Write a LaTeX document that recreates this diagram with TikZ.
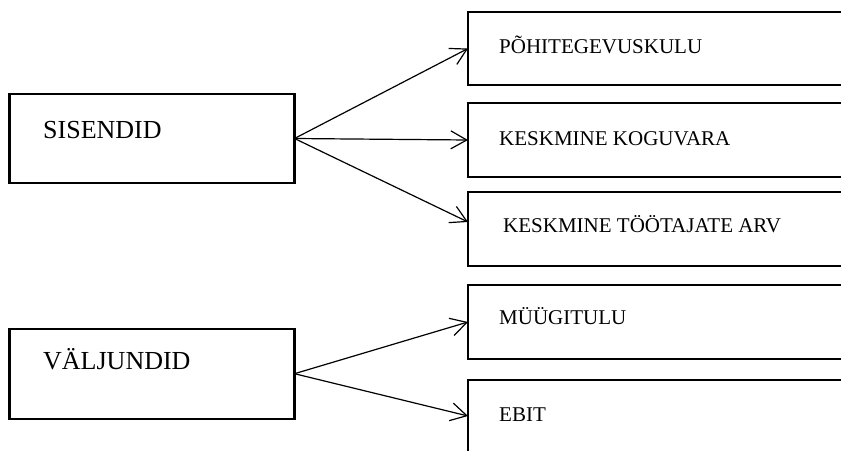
\documentclass[tikz,border=0pt]{standalone}
\usepackage{fontspec}
\setmainfont{Liberation Serif}
\usetikzlibrary{arrows.meta}
\begin{document}
\begin{tikzpicture}[x=1pt,y=-1pt,
  box/.style={draw,line width=2.3pt,rectangle,anchor=north west,inner sep=0pt,outer sep=0pt},
  leftbox/.style={box,minimum width=285pt,minimum height=89pt},
  rightbox/.style={box,minimum width=420pt,minimum height=74pt},
  bigtxt/.style={anchor=base west,inner sep=0pt,font=\fontsize{26}{30}\selectfont},
  smalltxt/.style={anchor=base west,inner sep=0pt,font=\fontsize{21}{25}\selectfont},
  arr/.style={line width=1.2pt,-{Straight Barb[length=16pt,width=18pt]}}]
\useasboundingbox (0,0) rectangle (841,450);
\clip (0,0) rectangle (841,450);
% left boxes
\node[leftbox] (sis) at (9.5,94) {};
\node[leftbox,minimum height=90pt] (val) at (9.5,328.7) {};
% right boxes
\node[rightbox,minimum height=73pt] (b1) at (468,12) {};
\node[rightbox] (b2) at (468,103) {};
\node[rightbox] (b3) at (468,192) {};
\node[rightbox] (b4) at (468,285) {};
\node[rightbox] (b5) at (468,380) {};
% texts
\node[bigtxt] (tsis) at (43,138) {SISENDID};
\node[bigtxt] (tval) at (43,369) {VÄLJUNDID};
\node[smalltxt] (t1) at (499,53) {PÕHITEGEVUSKULU};
\node[smalltxt] (t2) at (499,145) {KESKMINE KOGUVARA};
\node[smalltxt] (t3) at (503,232) {KESKMINE TÖÖTAJATE ARV};
\node[smalltxt] (t4) at (499,324) {MÜÜGITULU};
\node[smalltxt] (t5) at (499,421) {EBIT};
% arrows
\draw[arr] (sis.east) -- (b1.west);
\draw[arr] (sis.east) -- (b2.west);
\draw[arr] (sis.east) -- ([yshift=-30pt]b3.north west);
\draw[arr] (val.east) -- (b4.west);
\draw[arr] (val.east) -- ([yshift=-36pt]b5.north west);
\end{tikzpicture}
\end{document}
